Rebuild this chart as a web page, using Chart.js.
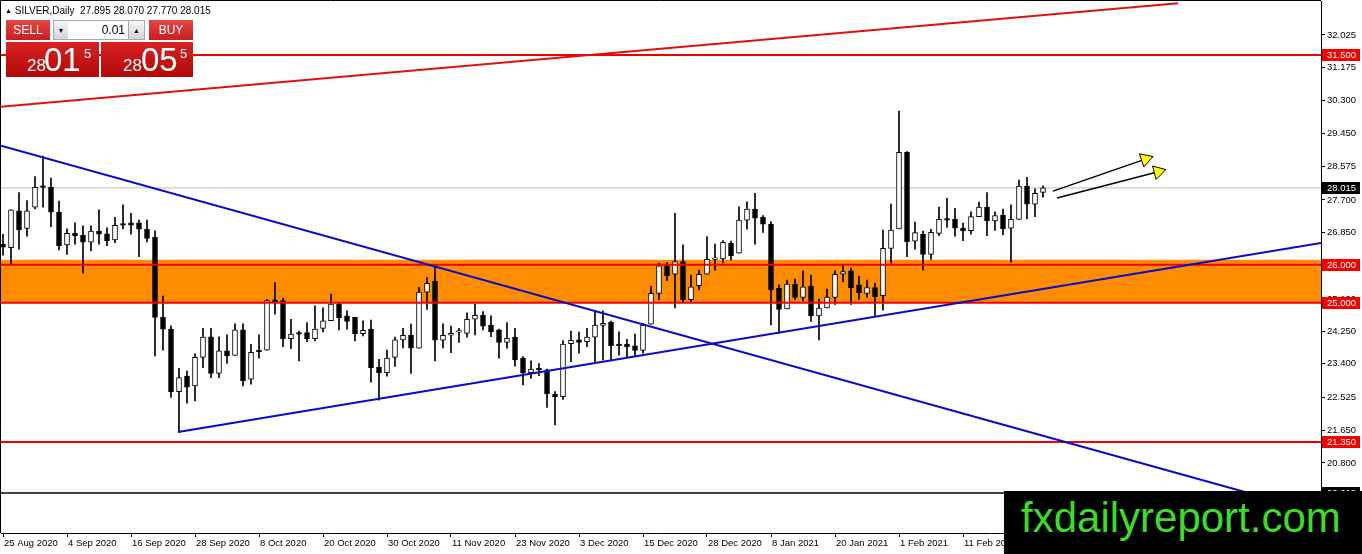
<!DOCTYPE html>
<html>
<head>
<meta charset="utf-8">
<script src="https://cdn.jsdelivr.net/npm/chart.js@4.4.1/dist/chart.umd.min.js"></script>
<style>
  html, body { margin: 0; padding: 0; background: #fff; }
  #wrap { position: relative; width: 1362px; height: 554px; overflow: hidden; font-family: "Liberation Sans", Arial, sans-serif; }
  #chart { position: absolute; left: 0; top: 0; }
  #title { position: absolute; left: 5px; top: 6px; font-size: 10px; line-height: 10px; color: #000; white-space: pre; }
  #title .tri { font-size: 7px; vertical-align: 1px; }
  .btn { position: absolute; top: 20px; height: 20px; line-height: 20px; text-align: center; font-size: 12px; box-sizing: border-box; }
  .red { color: #fff; background: linear-gradient(#e64646, #c81e1e); }
  .grey { color: #000; font-size: 7px; background: linear-gradient(#f6f6f6, #d4d4d4); border: 1px solid #a8a8a8; }
  #lot { position: absolute; left: 68px; top: 20px; width: 60px; height: 20px; box-sizing: border-box; border: 1px solid #a8a8a8; border-left: 0; border-right: 0;
         background: #fff; font-size: 12px; line-height: 18px; text-align: right; padding-right: 3px; }
  .price { position: absolute; top: 42px; width: 93px; height: 35px; color: #fff; background: linear-gradient(#d82222, #b00808); }
  .price span { position: absolute; line-height: 1; white-space: nowrap; }
  .p1 { font-size: 17px; top: 15px; }
  .p2 { font-size: 33px; top: 1px; }
  .p3 { font-size: 13px; top: 5px; }
  #mark { position: absolute; left: 1004px; top: 491px; width: 358px; height: 63px; background: #000; }
  #mark span { position: absolute; left: 17px; top: 6px; font-size: 42px; line-height: 42px; color: #3cdc28; white-space: nowrap; }
</style>
</head>
<body>
<div id="wrap">
  <canvas id="chart" width="1362" height="554"></canvas>
  <div id="title"><span class="tri">▲</span> SILVER,Daily  27.895 28.070 27.770 28.015</div>
  <div class="btn red" style="left:6px;width:44px">SELL</div>
  <div class="btn grey" style="left:53px;width:16px">▼</div>
  <div id="lot">0.01</div>
  <div class="btn grey" style="left:128px;width:17px">▲</div>
  <div class="btn red" style="left:149px;width:44px">BUY</div>
  <div class="price" style="left:6px"><span class="p1" style="left:21px">28</span><span class="p2" style="left:38px">01</span><span class="p3" style="left:78px">5</span></div>
  <div class="price" style="left:101px;width:92px"><span class="p1" style="left:22px">28</span><span class="p2" style="left:40px">05</span><span class="p3" style="left:79px">5</span></div>
  <div id="mark"><span>fxdailyreport.com</span></div>
</div>
<script>
// SILVER daily candles, 25 Aug 2020 .. 25 Feb 2021
const opens = [26.54,26.45,27.41,26.95,27.51,28.07,28.03,27.38,26.52,26.82,
  26.78,26.59,26.88,26.81,26.65,27.07,27.10,27.10,26.93,26.72,
  24.62,24.31,22.67,23.08,22.82,23.57,24.11,23.15,23.74,23.62,
  24.29,23.00,23.76,23.76,25.08,25.06,24.06,24.20,24.22,24.06,
  24.33,24.53,24.97,24.66,24.62,24.19,24.31,23.31,23.17,23.57,
  24.03,24.15,23.81,25.28,25.57,24.02,24.15,24.23,24.20,24.57,
  24.68,24.42,24.29,23.96,24.10,23.55,23.17,23.28,23.24,22.60,
  22.54,23.93,24.03,23.98,24.10,24.41,24.49,23.92,23.92,23.87,
  23.75,24.44,25.25,25.97,25.75,26.08,25.08,25.45,25.75,26.14,
  26.15,26.56,26.30,27.17,27.46,27.24,27.06,25.38,24.84,25.49,
  25.14,25.44,24.66,24.87,25.14,25.75,25.84,25.47,25.25,25.40,
  25.19,26.43,26.94,28.95,26.62,26.80,26.27,26.82,27.20,27.19,
  26.96,26.89,27.26,27.51,27.15,27.30,26.96,27.19,28.06,27.59,
  27.895];
const highs = [26.80,27.44,27.89,27.68,28.31,28.85,28.27,27.67,26.94,27.10,
  27.02,27.02,27.44,26.97,27.24,27.57,27.35,27.17,27.17,26.89,
  25.18,24.40,23.28,23.22,23.66,24.33,24.33,24.11,24.16,24.45,
  24.45,23.91,24.16,25.09,25.53,25.12,24.57,24.26,24.48,24.92,
  24.87,25.23,25.00,24.79,24.62,24.53,24.55,23.52,23.76,24.10,
  24.33,24.44,25.41,25.66,25.93,24.45,24.39,24.33,24.74,24.97,
  24.77,24.66,24.31,24.48,24.33,23.59,23.48,23.41,23.26,22.67,
  24.01,24.26,24.23,24.33,24.77,24.79,24.52,24.24,24.04,24.18,
  24.46,25.44,26.04,26.06,27.35,26.52,25.73,25.86,26.74,26.54,
  26.63,26.62,27.52,27.65,27.87,27.29,27.13,25.47,25.60,25.62,
  25.84,25.73,25.10,25.36,25.84,25.98,25.91,25.70,25.60,25.51,
  26.91,27.59,30.03,28.97,27.12,26.88,26.93,27.51,27.74,27.48,
  27.09,27.39,27.64,27.89,27.39,27.46,27.57,28.22,28.29,27.99,
  28.07];
const lows = [26.25,26.02,26.41,26.75,27.46,27.51,27.00,26.39,26.27,26.54,
  25.78,26.36,26.54,26.50,26.58,26.94,26.80,26.21,26.60,23.61,
  23.76,22.52,21.60,22.37,22.43,23.30,23.04,23.04,23.41,23.62,
  22.82,22.87,23.55,23.76,24.70,23.85,23.80,23.48,23.98,24.00,
  24.24,24.53,24.29,24.31,24.00,24.13,22.92,22.45,23.08,23.33,
  23.82,23.15,23.81,24.83,23.48,23.82,23.69,23.96,24.10,24.16,
  24.29,24.11,23.55,23.81,23.34,22.85,23.02,23.09,22.26,21.80,
  22.47,23.46,23.68,23.85,23.43,23.50,23.50,23.63,23.59,23.59,
  23.68,24.44,25.08,25.58,24.87,25.03,25.03,25.34,25.75,25.86,
  26.05,26.12,26.30,26.93,26.54,26.85,24.42,24.20,24.84,25.08,
  25.05,24.51,24.03,24.87,24.96,25.55,24.96,25.09,25.14,24.64,
  24.81,26.04,26.94,26.21,26.41,25.86,26.14,26.76,26.98,26.75,
  26.63,26.80,27.26,26.76,26.90,26.78,26.06,27.19,27.20,27.26,
  27.77];
const closes = [26.46,27.44,26.91,27.41,28.03,28.03,27.38,26.50,26.82,26.76,
  26.59,26.88,26.80,26.63,27.03,27.04,27.04,26.93,26.69,24.62,
  24.31,22.67,23.04,22.79,23.57,24.10,23.15,23.74,23.61,24.29,
  22.96,23.70,23.72,25.06,25.02,24.06,24.18,24.18,24.06,24.31,
  24.53,24.97,24.61,24.51,24.19,24.28,23.30,23.17,23.55,24.03,
  24.15,23.81,25.28,25.51,24.02,24.15,24.20,24.24,24.57,24.67,
  24.39,24.24,23.96,24.07,23.50,23.17,23.26,23.24,22.61,22.54,
  23.92,24.02,23.96,24.10,24.42,24.46,23.88,23.88,23.85,23.75,
  24.42,25.25,25.97,25.71,26.08,25.08,25.42,25.75,26.14,26.16,
  26.59,26.24,27.17,27.46,27.22,27.06,25.34,24.83,25.49,25.14,
  25.42,24.66,24.86,25.15,25.75,25.82,25.40,25.27,25.40,25.16,
  26.43,26.91,28.95,26.60,26.84,26.27,26.85,27.19,27.17,26.96,
  26.89,27.26,27.51,27.15,27.29,26.94,27.19,28.06,27.59,27.87,
  28.015];

// x axis: bar index of each date label
const dateTickIndex = [0, 8, 16, 24, 32, 40, 48, 56, 64, 72, 80, 88, 96, 104, 112, 120];
const dateLabels = ['25 Aug 2020', '4 Sep 2020', '16 Sep 2020', '28 Sep 2020', '8 Oct 2020', '20 Oct 2020',
  '30 Oct 2020', '11 Nov 2020', '23 Nov 2020', '3 Dec 2020', '15 Dec 2020', '28 Dec 2020',
  '8 Jan 2021', '20 Jan 2021', '1 Feb 2021', '11 Feb 2021'];
// price scale ticks
const priceTicks = [32.025, 31.175, 30.300, 29.450, 28.575, 27.700, 26.850, 25.975, 25.100,
  24.250, 23.400, 22.525, 21.650, 20.800, 19.925];

// horizontal levels
const redLevels = [31.5, 26.0, 25.0, 21.35];
const bidPrice = 28.015;
const blackLevel = 20.01;
const zone = [25.0, 26.13];

// trend lines, [bar index, price] pairs
const redTrend = [[-0.25, 30.14], [146.9, 32.86]];
const blueDown = [[-0.25, 29.12], [155.25, 20.04]];
const blueUp = [[21.875, 21.61], [164.75, 26.57]];
const arrowA = [[131.25, 27.93], [142.8, 28.77]];
const arrowB = [[131.75, 27.75], [144.4, 28.44]];

const xMin = -0.25, xMax = 164.75;
const yMin = 18.964, yMax = 32.916;

const axisFont = { family: 'Liberation Sans', size: 9.5 };

const wickData = highs.map((h, i) => ({ x: i, y: [lows[i], h] }));
const bodyData = opens.map((o, i) => ({ x: i, y: [Math.min(o, closes[i]), Math.max(o, closes[i])] }));
const bodyFill = opens.map((o, i) => closes[i] >= o ? '#ffffff' : '#000000');

const pts = arr => arr.map(p => ({ x: p[0], y: p[1] }));
const hline = v => [{ x: xMin, y: v }, { x: xMax, y: v }];
const lineSet = (data, color, width, order) => ({
  type: 'line', data, borderColor: color, borderWidth: width, pointRadius: 0, fill: false, order
});

const datasets = [
  { type: 'line', data: hline(zone[1]), borderWidth: 0, pointRadius: 0,
    backgroundColor: '#ff8c00', fill: { value: zone[0] }, order: 20 },
  { type: 'bar', data: wickData, backgroundColor: '#000', barThickness: 1, grouped: false, order: 6 },
  { type: 'bar', data: bodyData, backgroundColor: bodyFill, borderColor: '#000', borderWidth: 1,
    borderSkipped: false, barThickness: 5, minBarLength: 1.5, grouped: false, order: 5 },
  lineSet(hline(bidPrice), '#c0c0c0', 1, 15),
  lineSet(hline(blackLevel), '#000', 1.5, 3),
  lineSet(pts(redTrend), '#e01010', 2, 2),
  lineSet(pts(blueDown), '#0a0ac8', 2, 2),
  lineSet(pts(blueUp), '#0a0ac8', 2, 2),
  { type: 'line', data: pts(arrowA), borderColor: '#000', borderWidth: 1.5, pointRadius: [0, 8],
    pointStyle: 'triangle', pointRotation: 71.6, pointBackgroundColor: '#ffff00', pointBorderColor: '#000',
    pointBorderWidth: 1, fill: false, order: 1 },
  { type: 'line', data: pts(arrowB), borderColor: '#000', borderWidth: 1.5, pointRadius: [0, 8],
    pointStyle: 'triangle', pointRotation: 75, pointBackgroundColor: '#ffff00', pointBorderColor: '#000',
    pointBorderWidth: 1, fill: false, order: 1 }
];
redLevels.forEach(v => datasets.push(lineSet(hline(v), '#f00000', 2, 3)));

// price tags on the right axis
const tags = redLevels.map(v => ({ value: v, bg: '#f00000' }))
  .concat([{ value: bidPrice, bg: '#000' }, { value: blackLevel, bg: '#000' }]);

const axisTags = {
  id: 'axisTags',
  afterDraw(chart) {
    const { ctx, chartArea, scales } = chart;
    ctx.save();
    ctx.strokeStyle = '#000';
    ctx.lineWidth = 1;
    ctx.beginPath();
    ctx.moveTo(chartArea.left - 0.5, chartArea.bottom);
    ctx.lineTo(chartArea.left - 0.5, chartArea.top - 0.5);
    ctx.lineTo(chartArea.right, chartArea.top - 0.5);
    ctx.stroke();
    ctx.font = '9.5px "Liberation Sans"';
    ctx.textBaseline = 'middle';
    tags.forEach(t => {
      const py = Math.round(scales.y.getPixelForValue(t.value));
      ctx.fillStyle = t.bg;
      ctx.fillRect(chartArea.right + 1, py - 6, 38, 12);
      ctx.fillStyle = '#fff';
      ctx.fillText(t.value.toFixed(3), chartArea.right + 6, py + 0.5);
    });
    ctx.restore();
  }
};

const noPad = s => { s.paddingTop = 0; s.paddingBottom = 0; s.paddingLeft = 0; s.paddingRight = 0; };

new Chart(document.getElementById('chart'), {
  type: 'line',
  data: { datasets },
  options: {
    responsive: false,
    animation: false,
    events: [],
    layout: { autoPadding: false, padding: { left: 1, top: 1, right: 0, bottom: 0 } },
    plugins: { legend: { display: false }, tooltip: { enabled: false } },
    scales: {
      x: {
        type: 'linear', min: xMin, max: xMax, offset: false,
        afterBuildTicks: s => { s.ticks = dateTickIndex.map(v => ({ value: v })); },
        afterFit: s => { s.height = 21; noPad(s); },
        ticks: { callback: (v, i) => dateLabels[i], align: 'start', labelOffset: 1, autoSkip: false,
          maxRotation: 0, padding: 1, color: '#000', font: axisFont },
        grid: { drawOnChartArea: false, tickLength: 4, color: '#000', offset: false },
        border: { color: '#000' }
      },
      y: {
        type: 'linear', position: 'right', min: yMin, max: yMax,
        afterBuildTicks: s => { s.ticks = priceTicks.map(v => ({ value: v })); },
        afterFit: s => { s.width = 41; noPad(s); },
        ticks: { callback: v => v.toFixed(3), autoSkip: false, padding: 2, color: '#000', font: axisFont },
        grid: { drawOnChartArea: false, tickLength: 4, color: '#000' },
        border: { color: '#000' }
      }
    }
  },
  plugins: [axisTags]
});
</script>
</body>
</html>
